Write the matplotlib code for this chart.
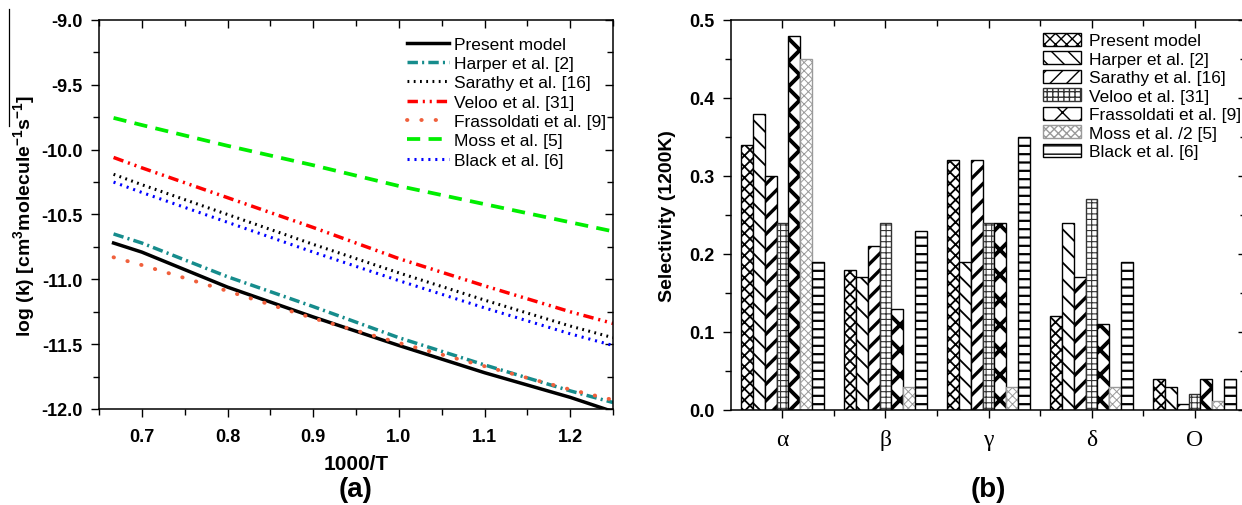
import matplotlib
matplotlib.use("Agg")
import matplotlib.pyplot as plt
import matplotlib.hatch as mhatch
import numpy as np
from matplotlib.ticker import MultipleLocator, FixedLocator, FormatStrFormatter
from matplotlib.lines import Line2D

plt.rcParams['font.family'] = ['Liberation Sans', 'DejaVu Sans']
plt.rcParams['mathtext.fontset'] = 'custom'
plt.rcParams['mathtext.rm'] = 'Liberation Sans:bold'
plt.rcParams['mathtext.bf'] = 'Liberation Sans:bold'
plt.rcParams['mathtext.it'] = 'Liberation Sans:bold'
plt.rcParams['lines.scale_dashes'] = False

# coarser spacing for the bold single-x hatch (Frassoldati bars)
_orig_get_path = mhatch.get_path
HATCH_DENSITY = {'x': 8}
def _get_path(hatchpattern, density=6):
    return _orig_get_path(hatchpattern, HATCH_DENSITY.get(hatchpattern, density))
mhatch.get_path = _get_path

# ---------------- Panel (a) data ----------------
inv_T = [0.667, 0.70, 0.80, 0.90, 1.00, 1.10, 1.20, 1.25]
present_model = [-10.72, -10.79, -11.06, -11.29, -11.51, -11.72, -11.91, -12.02]
harper = [-10.65, -10.72, -10.98, -11.21, -11.45, -11.66, -11.86, -11.95]
sarathy = [-10.19, -10.27, -10.50, -10.73, -10.95, -11.16, -11.36, -11.45]
veloo = [-10.06, -10.14, -10.37, -10.60, -10.84, -11.05, -11.25, -11.34]
frassoldati = [-10.83, -10.89, -11.09, -11.30, -11.49, -11.67, -11.85, -11.93]
moss = [-9.755, -9.81, -9.97, -10.12, -10.28, -10.42, -10.56, -10.63]
black = [-10.25, -10.33, -10.56, -10.79, -11.01, -11.22, -11.42, -11.51]

line_labels = ['Present model', 'Harper et al. [2]', 'Sarathy et al. [16]',
               'Veloo et al. [31]', 'Frassoldati et al. [9]', 'Moss et al. [5]',
               'Black et al. [6]']

# ---------------- Panel (b) data ----------------
sites = ['\u03b1', '\u03b2', '\u03b3', '\u03b4', 'O']
sel_present = [0.34, 0.18, 0.32, 0.12, 0.04]
sel_harper = [0.38, 0.17, 0.19, 0.24, 0.03]
sel_sarathy = [0.30, 0.21, 0.32, 0.17, 0.008]
sel_veloo = [0.24, 0.24, 0.24, 0.27, 0.02]
sel_frassoldati = [0.48, 0.13, 0.24, 0.11, 0.04]
sel_moss_half = [0.45, 0.03, 0.03, 0.03, 0.011]
sel_black = [0.19, 0.23, 0.35, 0.19, 0.04]

bar_labels = ['Present model', 'Harper et al. [2]', 'Sarathy et al. [16]',
              'Veloo et al. [31]', 'Frassoldati et al. [9]', 'Moss et al. /2 [5]',
              'Black et al. [6]']

W, H = 1242, 506
fig = plt.figure(figsize=(W / 100, H / 100), dpi=100)

# ---------------- Panel (a) ----------------
axa = fig.add_axes([99 / W, 1 - 410 / H, (613 - 99) / W, (410 - 21) / H])
lw = 2.2
axa.plot(inv_T, present_model, color='black', lw=lw + 0.3, ls='-', label=line_labels[0])
axa.plot(inv_T, harper, color='#168c8c', lw=lw + 0.3, ls=(0, (7.5, 3, 1.5, 3)), label=line_labels[1])
axa.plot(inv_T, sarathy, color='black', lw=lw, ls=(0, (1.3, 3.2)), label=line_labels[2])
axa.plot(inv_T, veloo, color='#ff0000', lw=lw + 0.3, ls=(0, (7.5, 3.5, 1.5, 3.5, 1.5, 3.5)),
         label=line_labels[3])
axa.plot(inv_T, frassoldati, color='#f0603c', lw=2.8, ls=(0, (0.3, 10)),
         dash_capstyle='round', label=line_labels[4])
axa.plot(inv_T, moss, color='#00ee00', lw=2.7, ls=(0, (9.5, 6)), label=line_labels[5])
axa.plot(inv_T, black, color='#0000ff', lw=lw, ls=(0, (1.5, 3.5)), label=line_labels[6])

axa.set_xlim(0.65, 1.25)
axa.set_ylim(-12.0, -9.0)
axa.xaxis.set_major_locator(MultipleLocator(0.1))
axa.xaxis.set_minor_locator(MultipleLocator(0.05))
axa.yaxis.set_major_locator(MultipleLocator(0.5))
axa.yaxis.set_minor_locator(MultipleLocator(0.25))
axa.xaxis.set_major_formatter(FormatStrFormatter('%.1f'))
axa.yaxis.set_major_formatter(FormatStrFormatter('%.1f'))

axa.set_xlabel('1000/T', fontsize=15, fontweight='bold', labelpad=6)
axa.set_ylabel(r'log (k) [cm$^{3}$molecule$^{-1}$s$^{-1}$]', fontsize=14,
               fontweight='bold', labelpad=3)
axa.legend(loc='upper right', frameon=False, fontsize=12.5, handlelength=2.4,
           handletextpad=0.3, labelspacing=0.24, borderaxespad=0.0,
           bbox_to_anchor=(1.0, 0.975))

# ---------------- Panel (b) ----------------
axb = fig.add_axes([731 / W, 1 - 411 / H, 515 / W, 390 / H])
series = [sel_present, sel_harper, sel_sarathy, sel_veloo, sel_frassoldati,
          sel_moss_half, sel_black]
hatches = ['xxx', '\\\\', '//', '+++', 'x', 'xxxx', '--']
edgecols = ['black', 'black', 'black', '#333333', 'black', '#9a9a9a', 'black']
hatch_lws = [1.3, 1.3, 2.4, 0.8, 2.8, 0.7, 1.6]
n = len(series)
bw = 0.8 / n
xs = np.arange(len(sites))
for i, vals in enumerate(series):
    bars = axb.bar(xs - 0.4 + bw * (i + 0.5), vals, width=bw, facecolor='white',
                   edgecolor=edgecols[i], hatch=hatches[i], linewidth=1.0,
                   label=bar_labels[i])
    for p in bars:
        try:
            p.set_hatch_linewidth(hatch_lws[i])
        except Exception:
            pass

axb.set_xlim(-0.5, 4.5)
axb.set_ylim(0, 0.5)
axb.xaxis.set_major_locator(FixedLocator(xs))
axb.xaxis.set_minor_locator(FixedLocator(xs[:-1] + 0.5))
axb.set_xticks(xs)
axb.set_xticklabels(sites, fontfamily=['Liberation Serif', 'DejaVu Serif'], fontsize=17,
                    fontweight='normal')
axb.yaxis.set_major_locator(MultipleLocator(0.1))
axb.yaxis.set_minor_locator(MultipleLocator(0.05))
axb.yaxis.set_major_formatter(FormatStrFormatter('%.1f'))
axb.set_ylabel('Selectivity (1200K)', fontsize=14, fontweight='bold', labelpad=9)
axb.legend(loc='upper left', frameon=False, fontsize=12.5, handlelength=2.2,
           handleheight=0.75, handletextpad=0.45, labelspacing=0.18,
           bbox_to_anchor=((1036 - 731) / 515, 0.985), borderaxespad=0.0)

for ax in (axa, axb):
    for s in ax.spines.values():
        s.set_linewidth(1.1)
    ax.tick_params(which='both', bottom=True, left=True, top=True, right=True, width=1.0,
                   direction='out')
    ax.tick_params(which='major', length=6)
    ax.tick_params(which='minor', length=4)
    ax.tick_params(axis='x', which='major', pad=8)
    ax.tick_params(axis='y', which='major', pad=6)
    # mirrored ticks on top/right pointing inward
    for tick in ax.xaxis.get_major_ticks() + ax.xaxis.get_minor_ticks():
        tick.tick2line.set_marker(matplotlib.lines.TICKDOWN)
    for tick in ax.yaxis.get_major_ticks() + ax.yaxis.get_minor_ticks():
        tick.tick2line.set_marker(matplotlib.lines.TICKLEFT)
    for lab in ax.get_yticklabels():
        lab.set_fontweight('bold')
        lab.set_fontsize(13)
for lab in axa.get_xticklabels():
    lab.set_fontweight('bold')
    lab.set_fontsize(13)

# panel captions
fig.text(356 / W, 1 - 490 / H, '(a)', ha='center', va='center', fontsize=20, fontweight='bold')
fig.text(988 / W, 1 - 490 / H, '(b)', ha='center', va='center', fontsize=20, fontweight='bold')

# thin overline artefact above the y label of panel (a)
fig.add_artist(Line2D([9 / W, 9 / W], [1 - 10 / H, 1 - 127 / H], color='black', lw=0.9))

fig.savefig('out.png', dpi=100)
